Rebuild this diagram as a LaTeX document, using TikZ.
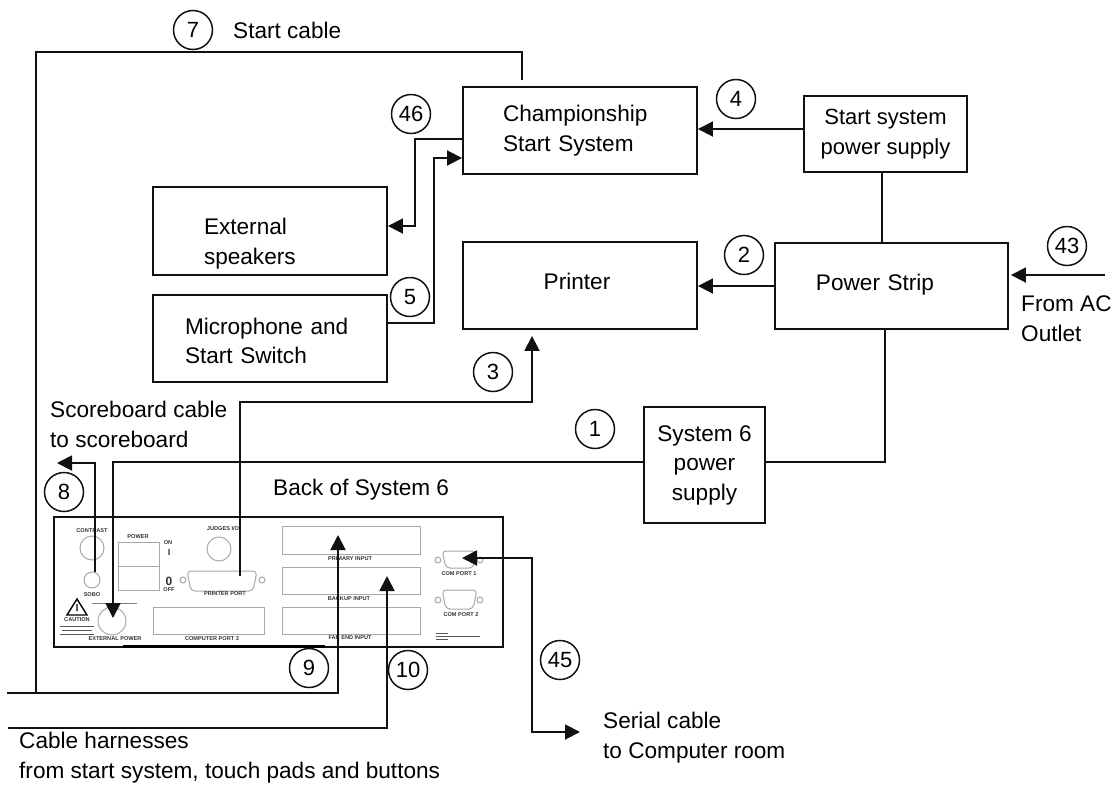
\documentclass[tikz,border=0pt]{standalone}
\usepackage{fontspec}
\setmainfont{Liberation Sans}
\usepackage{tikz}
\usetikzlibrary{arrows.meta,calc}
\definecolor{cVien}{HTML}{111111}
\definecolor{cCong}{HTML}{A8A8A8}
\def\Lchamp{\hspace*{40pt}Championship\\\hspace*{40pt}Start System}
\def\Lsupply{Start system\\power supply}
\def\Lspeakers{\rule{0pt}{42pt}\hspace*{51pt}External\\\hspace*{51pt}speakers}
\def\Lmic{\rule{0pt}{21pt}\hspace*{32pt}Microphone and\\\hspace*{32pt}Start Switch}
\def\Lprinter{\hspace*{-6pt}Printer\rule[-8pt]{0pt}{1pt}}
\def\Lstrip{\hspace*{-33pt}Power Strip\rule[-8pt]{0pt}{1pt}}
\def\Lsystem{System 6\\power\\supply}

\begin{document}
\begin{tikzpicture}[
  x=1pt, y=-1pt,
  hop/.style={
    draw=cVien, line width=1.9pt, align=center, inner sep=0pt,
    font=\fontsize{22.6}{29.5}\selectfont
  },
  hoptrai/.style={hop, align=left},
  vong/.style={
    draw=cVien, line width=1.5pt, circle, inner sep=0pt, minimum size=39pt,
    font=\fontsize{22}{25}\selectfont
  },
  chu/.style={anchor=west, align=left, inner sep=0pt, font=\fontsize{22.6}{30}\selectfont},
  day/.style={draw=cVien, line width=1.9pt},
  muiten/.style={day, -{Triangle[length=15pt,width=15pt]}},
  congchu/.style={font=\fontsize{5.6}{6}\selectfont\bfseries, text=black!80, inner sep=0pt},
  congve/.style={draw=cCong, line width=1pt}
]
\useasboundingbox (0,0) rectangle (1115,785);

% ── Cac hop chinh ──
\node[hoptrai, text width=234pt, minimum height=87pt]  (champ)    at (580,130.5) {\Lchamp};
\node[hop, minimum width=163pt, minimum height=76pt, font=\fontsize{22}{29.5}\selectfont] (supply) at (885.5,134) {\Lsupply};
\node[hoptrai, text width=234pt, minimum height=88pt]  (speakers) at (270,231) {\Lspeakers};
\node[hoptrai, text width=234pt, minimum height=87pt]  (mic)      at (270,338.5) {\Lmic};
\node[hop, text width=234pt, minimum height=87pt]      (printer)  at (580,285.5) {\Lprinter};
\node[hop, text width=233pt, minimum height=86pt]      (strip)    at (891.5,286) {\Lstrip};
\node[hop, minimum width=121pt, minimum height=116pt]  (system)   at (704.5,465) {\Lsystem};

% ── Mat sau System 6 ──
\node[draw=cVien, line width=1.9pt, minimum width=449pt, minimum height=130pt, inner sep=0pt] (panel) at (278.5,582) {};
\draw[line width=3pt] (123,646) -- (325,646);

\node[congve, circle, minimum size=24pt, inner sep=0pt] (contrast) at (92,548) {};
\node[congve, circle, minimum size=16pt, inner sep=0pt] (sobohole) at (92,580) {};
\node[congve, circle, minimum size=24pt, inner sep=0pt] (judges)   at (219,549) {};
\node[congve, circle, minimum size=28pt, inner sep=0pt] (extern)   at (112,621) {};
\draw[congve] (118,542) rectangle (159,590) (118,566) -- (159,566);
\draw[congve, rounded corners=4pt] (187,571) -- (257,571) -- (253,591) -- (191,591) -- cycle;
\draw[congve] (183,580) circle (3) (262,580) circle (3);
\draw[congve, rounded corners=4pt] (442,551) -- (477,551) -- (473,568) -- (446,568) -- cycle;
\draw[congve] (438,560) circle (3) (480,560) circle (3);
\draw[congve, rounded corners=4pt] (442,590) -- (477,590) -- (473,609) -- (446,609) -- cycle;
\draw[congve] (438,600) circle (3) (480,600) circle (3);

\node[congve, minimum width=111pt, minimum height=27pt, inner sep=0pt]  (comp3)   at (208.5,620.5) {};
\node[congve, minimum width=138pt, minimum height=28pt, inner sep=0pt]  (primary) at (351,540) {};
\node[congve, minimum width=138pt, minimum height=27pt, inner sep=0pt]  (backup)  at (351,580.5) {};
\node[congve, minimum width=138pt, minimum height=27pt, inner sep=0pt]  (farend)  at (351,620.5) {};

\node[congchu] (tcontrast) at (92,531)  {CONTRAST};
\node[congchu] (tpower)    at (138,537) {POWER};
\node[congchu] (ton)       at (168,543) {ON};
\node[congchu, font=\fontsize{9}{9}\selectfont\bfseries] (tone)  at (169,552) {I};
\node[congchu, font=\fontsize{12}{12}\selectfont\bfseries] (tzero) at (169,581) {0};
\node[congchu] (toff)      at (169,590) {OFF};
\node[congchu] (tjudges)   at (223,529) {JUDGES I/O};
\node[congchu] (tport)     at (225,594) {PRINTER PORT};
\node[congchu] (tsobo)     at (92,595)  {SOBO};
\node[congchu] (tcaution)  at (77,620)  {CAUTION};
\node[congchu] (texternal) at (115,639) {EXTERNAL POWER};
\node[congchu] (tcomp)     at (212,639) {COMPUTER PORT 3};
\node[congchu] (tprimary)  at (350,559) {PRIMARY INPUT};
\node[congchu] (tbackup)   at (349,599) {BACKUP INPUT};
\node[congchu] (tfarend)   at (350,638) {FAR END INPUT};
\node[congchu] (tcom1)     at (459,574) {COM PORT 1};
\node[congchu] (tcom2)     at (461,615) {COM PORT 2};

% tam giac canh bao va may dong chu qua nho, chi con la vach
\draw[line width=1.4pt, line join=miter] (77,599) -- (67,615) -- (87,615) -- cycle (77,604) -- (77,611);
\draw[black!65, line width=0.9pt] (60,626) -- (94,626) (62,630) -- (92,630) (60,634) -- (94,634);
\draw[black!50, line width=1pt] (92,603) -- (137,603);
\draw[black!65, line width=0.9pt] (436,633) -- (448,633) (436,636) -- (480,636) (436,639) -- (448,639);

% ── Cac diem dau day tren mat sau ──
\coordinate (sobo)       at (95,572);
\coordinate (extpower)   at (113,618);
\coordinate (printerport) at (240,576);
\coordinate (primaryin)  at (338,535);
\coordinate (backupin)   at (387,576);
\coordinate (comport)    at (462,558);

% ── Dau tu do ──
\coordinate (startjoin)  at (36,693);
\coordinate (harnessa)   at (7,693);
\coordinate (harnessb)   at (8,728);
\coordinate (scoreend)   at (57,463);
\coordinate (acend)      at (1105,275);
\coordinate (serialend)  at (580,732);
\coordinate (printerin)  at ([xshift=-48pt,yshift=-6pt]printer.south);

% ── Day noi ──
\draw[day] ([xshift=-58pt,yshift=6pt]champ.north) |- (36,52) -- (startjoin);
\draw[muiten] ([yshift=5pt]supply.west) -- ([yshift=5pt]supply.west -| champ.east);
\draw[day] ([xshift=-3.5pt]supply.south) -- ([xshift=-3.5pt]supply.south |- strip.north);
\draw[muiten] (strip.west) -- (strip.west -| printer.east);
\draw[muiten] (acend) -- ([xshift=2pt,yshift=11pt]strip.east);
\draw[muiten] ([yshift=-8.5pt]champ.west) -- (415,139) |- ([yshift=5pt]speakers.east);
\draw[muiten] ([yshift=15.5pt]mic.east) -- (434,323) |- ([yshift=-27.5pt]champ.west);
\draw[muiten] (printerport) |- (532,402) -- (printerin);
\draw[day] ([xshift=-6.5pt]strip.south) |- ([yshift=3pt]system.east);
\draw[muiten] ([yshift=3pt]system.west) -| (extpower);
\draw[muiten] (sobo) |- (scoreend);
\draw[muiten] (harnessa) -| (primaryin);
\draw[muiten] (harnessb) -| (backupin);
\draw[muiten, {Triangle[length=15pt,width=15pt]}-{Triangle[length=15pt,width=15pt]}] (comport) -- (532,558) |- (serialend);

% ── Vong so ──
\node[vong] (n7)  at (193,30)   {7};
\node[vong] (n46) at (411,114)  {46};
\node[vong] (n4)  at (736,99)   {4};
\node[vong] (n2)  at (744,255)  {2};
\node[vong] (n43) at (1067,246) {43};
\node[vong] (n5)  at (410,297)  {5};
\node[vong] (n3)  at (493,372)  {3};
\node[vong] (n1)  at (595,429)  {1};
\node[vong] (n8)  at (64,492)   {8};
\node[vong] (n9)  at (309,668)  {9};
\node[vong] (n10) at (408,670)  {10};
\node[vong] (n45) at (560,660)  {45};

% ── Chu roi ──
\node[chu] (lstart)  at (233,30)  {Start cable};
\node[chu] (lscore)  at (50,424)  {Scoreboard cable\\to scoreboard};
\node[chu] (lback)   at (273,490) {Back of System 6};
\node[chu] (lac)     at (1021,319) {From AC\\Outlet};
\node[chu] (lserial) at (603,737.5) {Serial cable\\to Computer room};
\node[chu] (lharness) at (19,757.5) {Cable harnesses\\from start system, touch pads and buttons};

\end{tikzpicture}
\end{document}
